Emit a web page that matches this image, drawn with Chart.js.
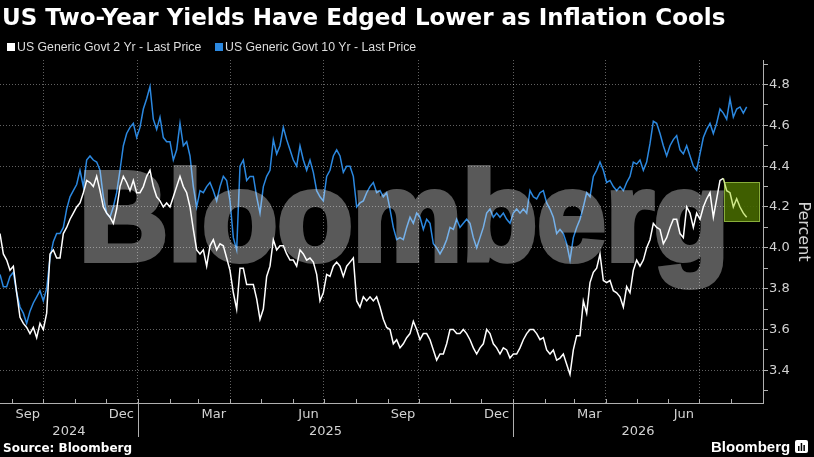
<!DOCTYPE html>
<html>
<head>
<meta charset="utf-8">
<script src="https://cdn.jsdelivr.net/npm/chart.js"></script>
<style>
  html, body { margin: 0; padding: 0; background: #000; }
  #wrap { position: relative; width: 814px; height: 457px; overflow: hidden; background: #000; }
  #chart { position: absolute; left: 0; top: 0; }
  .title { position: absolute; left: 2px; top: 6px; font: bold 23px/23px "DejaVu Sans", sans-serif; color: #fff; white-space: nowrap; }
  .legend { position: absolute; top: 41px; font: 12.3px/13px "Liberation Sans", Arial, sans-serif; color: #ddd; white-space: nowrap; }
  .swatch { position: absolute; top: 43px; width: 8px; height: 8px; }
  .source { position: absolute; left: 3px; top: 442px; font: bold 12px/12px "DejaVu Sans", sans-serif; color: #fff; white-space: nowrap; }
  .brand { position: absolute; left: 711px; top: 439px; font: bold 15px/15px "Liberation Sans", Arial, sans-serif; color: #fff; white-space: nowrap; }
  .icon { position: absolute; left: 795px; top: 440px; }
</style>
</head>
<body>
<div id="wrap">
  <canvas id="chart" width="814" height="457"></canvas>
  <div class="title">US Two-Year Yields Have Edged Lower as Inflation Cools</div>
  <div class="swatch" style="left:7px;background:#fff"></div>
  <div class="legend" style="left:17px">US Generic Govt 2 Yr - Last Price</div>
  <div class="swatch" style="left:215px;background:#2b88e0"></div>
  <div class="legend" style="left:225px">US Generic Govt 10 Yr - Last Price</div>
  <div class="source">Source: Bloomberg</div>
  <div class="brand">Bloomberg</div>
  <svg class="icon" width="13" height="13" viewBox="0 0 13 13">
    <rect x="0" y="0" width="13" height="13" rx="2" fill="#fff"/>
    <rect x="3" y="6" width="1.5" height="5" fill="#000"/>
    <rect x="5.7" y="3" width="1.5" height="8" fill="#000"/>
    <rect x="8.4" y="5" width="1.5" height="6" fill="#000"/>
  </svg>
</div>

<script>
// x positions: trading samples every ~3.24 days from 20 Aug 2024
const firstDate = '2024-08-20';
const stepDays = 3.2416;

// US 2-year yield (%)
const twoYear = [
  4.07, 3.97, 3.94, 3.89, 3.91, 3.78, 3.66, 3.63, 3.61, 3.58,
  3.61, 3.56, 3.63, 3.60, 3.68, 3.97, 3.99, 3.95, 3.95, 4.07,
  4.10, 4.14, 4.17, 4.20, 4.22, 4.27, 4.33, 4.32, 4.30, 4.35,
  4.28, 4.20, 4.17, 4.15, 4.12, 4.19, 4.30, 4.35, 4.32, 4.28,
  4.33, 4.27, 4.27, 4.30, 4.35, 4.38, 4.30, 4.25, 4.23, 4.20,
  4.22, 4.20, 4.25, 4.30, 4.35, 4.30, 4.27, 4.20, 4.09, 3.99,
  3.97, 3.99, 3.91, 4.01, 4.04, 3.99, 4.02, 4.01, 3.95, 3.89,
  3.78, 3.70, 3.90, 3.90, 3.82, 3.82, 3.82, 3.75, 3.65, 3.70,
  3.86, 3.91, 4.04, 3.99, 4.01, 4.01, 3.97, 3.94, 3.94, 3.91,
  3.99, 3.97, 3.94, 3.95, 3.93, 3.87, 3.74, 3.78, 3.87, 3.86,
  3.91, 3.93, 3.91, 3.86, 3.91, 3.93, 3.95, 3.74, 3.71, 3.76,
  3.74, 3.76, 3.74, 3.76, 3.71, 3.65, 3.61, 3.60, 3.53, 3.55,
  3.51, 3.53, 3.56, 3.58, 3.64, 3.60, 3.55, 3.58, 3.58, 3.55,
  3.50, 3.45, 3.48, 3.48, 3.53, 3.60, 3.60, 3.58, 3.58, 3.60,
  3.58, 3.55, 3.51, 3.48, 3.51, 3.53, 3.60, 3.58, 3.53, 3.51,
  3.48, 3.51, 3.50, 3.46, 3.48, 3.48, 3.51, 3.55, 3.58, 3.60,
  3.60, 3.58, 3.55, 3.56, 3.50, 3.48, 3.50, 3.45, 3.46, 3.48,
  3.43, 3.38, 3.50, 3.57, 3.57, 3.74, 3.68, 3.83, 3.88, 3.90,
  3.97, 3.84, 3.83, 3.84, 3.79, 3.78, 3.76, 3.71, 3.81, 3.78,
  3.89, 3.94, 3.91, 3.94, 4.00, 4.04, 4.12, 4.10, 4.09, 4.02,
  4.05, 4.10, 4.14, 4.14, 4.07, 4.05, 4.20, 4.17, 4.10, 4.17,
  4.14, 4.20, 4.24, 4.27, 4.15, 4.24, 4.33, 4.34, 4.28, 4.27,
  4.20, 4.24, 4.20, 4.17, 4.15
];

// US 10-year yield (%)
const tenYear = [
  3.87, 3.81, 3.81, 3.86, 3.88, 3.78, 3.71, 3.68, 3.63, 3.69,
  3.73, 3.76, 3.79, 3.74, 3.80, 3.95, 4.03, 4.07, 4.07, 4.10,
  4.19, 4.25, 4.28, 4.31, 4.38, 4.30, 4.43, 4.45, 4.43, 4.42,
  4.38, 4.25, 4.17, 4.15, 4.20, 4.27, 4.38, 4.50, 4.56, 4.59,
  4.61, 4.54, 4.59, 4.68, 4.73, 4.79, 4.63, 4.58, 4.64, 4.54,
  4.52, 4.52, 4.43, 4.48, 4.61, 4.50, 4.52, 4.45, 4.30, 4.20,
  4.28, 4.27, 4.30, 4.32, 4.28, 4.23, 4.30, 4.35, 4.33, 4.23,
  4.05, 3.99, 4.40, 4.43, 4.33, 4.35, 4.35, 4.25, 4.17, 4.30,
  4.35, 4.38, 4.53, 4.46, 4.50, 4.59, 4.53, 4.48, 4.43, 4.40,
  4.50, 4.43, 4.38, 4.43, 4.37, 4.28, 4.25, 4.23, 4.35, 4.38,
  4.45, 4.48, 4.45, 4.37, 4.40, 4.40, 4.35, 4.20, 4.22, 4.23,
  4.27, 4.30, 4.32, 4.27, 4.28, 4.25, 4.27, 4.19, 4.10, 4.04,
  4.05, 4.04, 4.10, 4.15, 4.12, 4.17, 4.15, 4.09, 4.14, 4.12,
  4.02, 4.00, 3.97, 4.00, 4.04, 4.10, 4.09, 4.14, 4.10, 4.12,
  4.14, 4.12, 4.05, 4.00, 4.05, 4.10, 4.17, 4.19, 4.15, 4.17,
  4.15, 4.17, 4.14, 4.12, 4.17, 4.19, 4.17, 4.19, 4.17, 4.28,
  4.25, 4.24, 4.27, 4.28, 4.22, 4.19, 4.15, 4.07, 4.09, 4.07,
  4.02, 3.94, 4.05, 4.10, 4.14, 4.20, 4.27, 4.25, 4.35, 4.38,
  4.42, 4.38, 4.32, 4.33, 4.30, 4.28, 4.30, 4.28, 4.32, 4.35,
  4.42, 4.41, 4.43, 4.38, 4.42, 4.51, 4.62, 4.61, 4.56, 4.50,
  4.45, 4.50, 4.53, 4.55, 4.48, 4.46, 4.50, 4.45, 4.40, 4.38,
  4.46, 4.54, 4.58, 4.61, 4.56, 4.61, 4.68, 4.66, 4.63, 4.73,
  4.64, 4.68, 4.69, 4.66, 4.69
];

// axis range, tick labels
const axisStart = '2024-08-20';
const axisEnd = '2026-09-01';
const yMin = 3.24;
const yMax = 4.92;
const yTickValues = [3.3, 3.4, 3.5, 3.6, 3.7, 3.8, 3.9, 4.0, 4.1, 4.2, 4.3, 4.4, 4.5, 4.6, 4.7, 4.8, 4.9];
const monthLabels = ['Sep', 'Dec', 'Mar', 'Jun', 'Sep', 'Dec', 'Mar', 'Jun'];
const monthLabelDates = ['2024-09-16', '2024-12-16', '2025-03-16', '2025-06-16', '2025-09-16', '2025-12-16', '2026-03-16', '2026-06-16'];
const yearLabels = ['2024', '2025', '2026'];

// highlighted recent window on the 2-year
const highlightFrom = 217;
const boxDates = ['2026-07-25', '2026-08-28'];
const boxYields = [4.13, 4.32];

function toDay(s) {
    const [y, m, d] = s.split('-').map(Number);
    return (Date.UTC(y, m - 1, d) - Date.UTC(2025, 0, 1)) / 864e5;
}

const day0 = toDay(firstDate);
const twoYearPts = twoYear.map((v, i) => ({ x: day0 + i * stepDays, y: v }));
const tenYearPts = tenYear.map((v, i) => ({ x: day0 + i * stepDays, y: v }));

// month boundaries for ticks
const monthStarts = [];
for (let y = 2024; y <= 2026; y++) {
    for (let m = 1; m <= 12; m++) {
        const d = toDay(`${y}-${m}-1`);
        if (d >= toDay(axisStart) && d <= toDay(axisEnd)) monthStarts.push(d);
    }
}
const quarterStarts = monthStarts.filter(d => {
    const dt = new Date(Date.UTC(2025, 0, 1) + d * 864e5);
    return dt.getUTCMonth() % 3 === 0;
});

const axisColor = '#b0b0b0';
const labelColor = '#d2d2d2';
const gridColor = 'rgba(255,255,255,0.38)';

const decor = {
    id: 'decor',
    beforeDatasetsDraw(chart) {
        const { ctx, scales: { x, y } } = chart;
        // highlight box
        const bx0 = x.getPixelForValue(toDay(boxDates[0]));
        const bx1 = x.getPixelForValue(toDay(boxDates[1]));
        const by0 = y.getPixelForValue(boxYields[1]);
        const by1 = y.getPixelForValue(boxYields[0]);
        ctx.save();
        ctx.fillStyle = 'rgba(68,102,0,0.92)';
        ctx.fillRect(bx0, by0, bx1 - bx0, by1 - by0);
        ctx.strokeStyle = '#88ad3a';
        ctx.lineWidth = 1;
        ctx.strokeRect(Math.round(bx0) + 0.5, Math.round(by0) + 0.5, Math.round(bx1 - bx0), Math.round(by1 - by0));
        ctx.restore();
    },
    afterDatasetsDraw(chart) {
        // translucent watermark laid over the lines
        const { ctx } = chart;
        const dpr = chart.currentDevicePixelRatio || 1;
        const off = document.createElement('canvas');
        off.width = chart.width * dpr;
        off.height = chart.height * dpr;
        const o = off.getContext('2d');
        o.scale(dpr, dpr);
        o.font = 'bold 126px "Liberation Sans", Arial, sans-serif';
        o.fillStyle = '#fff';
        o.strokeStyle = '#fff';
        o.lineWidth = 6;
        o.lineJoin = 'miter';
        o.textBaseline = 'alphabetic';
        o.fillText('Bloomberg', 79, 260, 650);
        o.strokeText('Bloomberg', 79, 260, 650);
        ctx.save();
        ctx.setTransform(1, 0, 0, 1, 0, 0);
        ctx.globalAlpha = 0.35;
        ctx.drawImage(off, 0, 0);
        ctx.restore();
    },
    afterDraw(chart) {
        const { ctx, chartArea, scales: { x } } = chart;
        const base = chartArea.bottom;
        ctx.save();
        ctx.strokeStyle = axisColor;
        ctx.lineWidth = 1;

        // month tick marks pointing into the plot
        ctx.beginPath();
        monthStarts.forEach(d => {
            const px = Math.round(x.getPixelForValue(d)) + 0.5;
            ctx.moveTo(px, base);
            ctx.lineTo(px, base - 4);
        });
        ctx.stroke();

        // year separators
        ctx.beginPath();
        yearLabels.slice(1).forEach(yr => {
            const px = Math.round(x.getPixelForValue(toDay(`${yr}-01-01`))) + 0.5;
            ctx.moveTo(px, base);
            ctx.lineTo(px, base + 34);
        });
        ctx.stroke();

        ctx.fillStyle = labelColor;
        ctx.font = '13px "DejaVu Sans", sans-serif';
        ctx.textAlign = 'center';
        ctx.textBaseline = 'alphabetic';
        monthLabels.forEach((t, i) => {
            ctx.fillText(t, x.getPixelForValue(toDay(monthLabelDates[i])), base + 15);
        });

        yearLabels.forEach(yr => {
            const a = Math.max(x.min, toDay(`${yr}-01-01`));
            const b = Math.min(x.max, toDay(`${Number(yr) + 1}-01-01`));
            ctx.fillText(yr, (x.getPixelForValue(a) + x.getPixelForValue(b)) / 2, base + 32);
        });
        ctx.restore();
    }
};

new Chart(document.getElementById('chart').getContext('2d'), {
    type: 'line',
    data: {
        datasets: [
            {
                label: 'US Generic Govt 2 Yr - Last Price',
                data: twoYearPts,
                borderColor: '#ffffff',
                borderWidth: 1.5,
                pointRadius: 0,
                segment: {
                    borderColor: c => c.p0DataIndex >= highlightFrom ? '#cfe98a' : undefined
                }
            },
            {
                label: 'US Generic Govt 10 Yr - Last Price',
                data: tenYearPts,
                borderColor: '#2b88e0',
                borderWidth: 1.5,
                pointRadius: 0
            }
        ]
    },
    options: {
        responsive: false,
        animation: false,
        layout: { padding: { top: 60, bottom: 54, left: 0, right: 0 } },
        plugins: { legend: { display: false }, tooltip: { enabled: false } },
        scales: {
            x: {
                type: 'linear',
                min: toDay(axisStart),
                max: toDay(axisEnd),
                afterBuildTicks: s => { s.ticks = monthStarts.map(v => ({ value: v })); },
                afterFit: s => { s.height = 0; },
                ticks: { display: false },
                grid: {
                    drawTicks: false,
                    lineWidth: 1,
                    color: c => (c.tick && quarterStarts.includes(c.tick.value)) ? gridColor : 'transparent'
                },
                border: { display: true, color: axisColor, width: 1, dash: [1, 2] }
            },
            y: {
                position: 'right',
                min: yMin,
                max: yMax,
                afterBuildTicks: s => { s.ticks = yTickValues.map(v => ({ value: v })); },
                afterFit: s => { s.width = 51; },
                ticks: {
                    color: labelColor,
                    font: { family: '"DejaVu Sans", sans-serif', size: 13 },
                    padding: 1,
                    callback: v => Math.round(v * 10) % 2 === 0 ? v.toFixed(1) : ''
                },
                grid: {
                    lineWidth: 1,
                    tickLength: 5,
                    tickColor: axisColor,
                    color: c => (c.tick && Math.round(c.tick.value * 10) % 2 === 0) ? gridColor : 'transparent'
                },
                border: { display: true, color: axisColor, width: 1, dash: [1, 2] },
                title: {
                    display: true,
                    text: 'Percent',
                    color: labelColor,
                    font: { family: '"DejaVu Sans", sans-serif', size: 16 },
                    padding: { top: 1, bottom: 0 }
                }
            }
        }
    },
    plugins: [decor]
});
</script>
</body>
</html>
